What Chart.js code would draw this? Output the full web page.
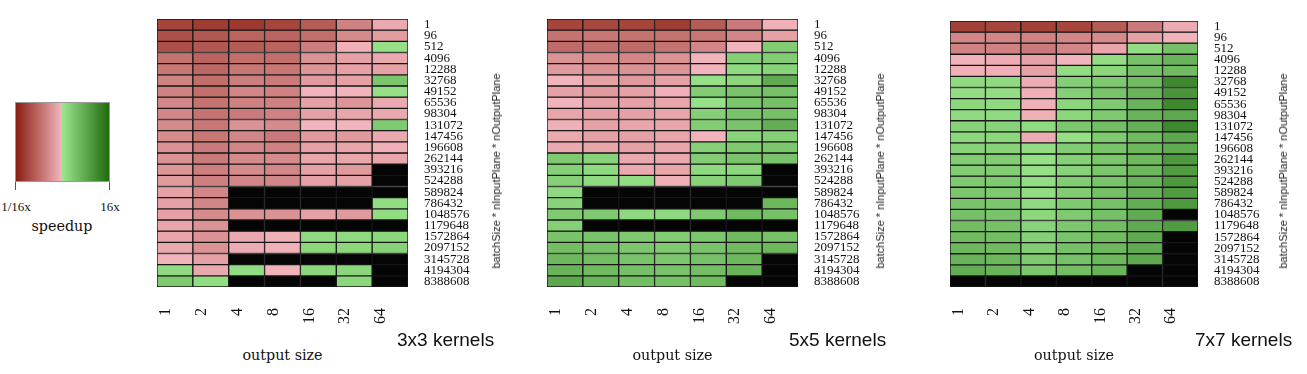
<!DOCTYPE html>
<html>
<head>
<meta charset="utf-8">
<script src="https://cdn.jsdelivr.net/npm/chart.js@4.4.1/dist/chart.umd.min.js"></script>
<style>
  body { margin: 0; width: 1307px; height: 374px; background: #fff; position: relative; overflow: hidden; color: #111; }
  canvas.panel { position: absolute; }
  .serif { position: absolute; font: 14.3px "DejaVu Serif", serif; white-space: nowrap; transform: translate(-50%, -50%); }
  .kern  { position: absolute; font: 19px "Liberation Sans", Arial, sans-serif; white-space: nowrap; transform: translateY(-50%); }
  .ytitle { position: absolute; font: 11px "Liberation Sans", Arial, sans-serif; color: #222; white-space: nowrap; transform: translate(-50%, -50%) rotate(-90deg); }
  .small { position: absolute; font: 13px "Liberation Serif", serif; white-space: nowrap; transform: translate(-50%, -50%); }
  #grad { position: absolute; left: 15px; top: 102px; width: 95px; height: 80px; box-sizing: border-box; border: 1px solid #999; }
  .tick { position: absolute; top: 182px; width: 1px; height: 8px; background: #555; }
</style>
</head>
<body>

<!-- legende -->
<div id="grad"></div>
<div class="tick" style="left:15px"></div>
<div class="tick" style="left:109px"></div>
<div class="small" style="left:16px; top:207px">1/16x</div>
<div class="small" style="left:110px; top:207px">16x</div>
<div class="serif" style="left:62px; top:226px">speedup</div>

<canvas id="c3" class="panel"></canvas>
<canvas id="c5" class="panel"></canvas>
<canvas id="c7" class="panel"></canvas>

<script>
// ── axes ─────────────────────────────────────────────────────────
const outputSizes = ["1", "2", "4", "8", "16", "32", "64"];
const rowLabels = [
  "1", "96", "512", "4096", "12288", "32768", "49152", "65536", "98304",
  "131072", "147456", "196608", "262144", "393216", "524288", "589824",
  "786432", "1048576", "1179648", "1572864", "2097152", "3145728",
  "4194304", "8388608"
];

// ── log2(speedup) par cellule, null = pas mesuré (noir) ─────────
const speedup3x3 = [
  [-3.0, -3.2, -3.3, -3.0, -2.4, -1.4, -0.4],
  [-2.7, -2.5, -2.2, -2.2, -1.9, -1.2, -0.7],
  [-2.7, -2.5, -2.4, -2.2, -1.5, -0.2,  0.2],
  [-1.8, -2.2, -1.9, -1.9, -1.0, -0.6, -0.4],
  [-1.7, -2.1, -1.7, -1.7, -0.9, -0.6, -0.6],
  [-1.4, -1.9, -1.5, -1.6, -0.8, -0.6,  1.0],
  [-1.4, -1.9, -1.3, -1.4, -0.1, -0.1,  0.2],
  [-1.3, -1.8, -1.4, -1.4, -0.6, -0.9, -0.4],
  [-1.3, -1.8, -1.6, -1.4, -0.6, -0.5, -0.4],
  [-1.2, -1.7, -1.0, -1.2, -0.1, -0.1,  0.9],
  [-1.2, -1.7, -1.3, -1.6, -0.8, -0.8, -0.4],
  [-1.0, -1.6, -1.3, -1.4, -0.6, -0.5, -0.2],
  [-1.0, -1.6, -1.2, -1.2, -0.5, -0.5, -0.5],
  [-0.9, -1.5, -1.2, -1.3, -0.6, -0.8, null],
  [-0.8, -1.5, -1.3, -1.3, -0.6, -0.6, null],
  [-0.6, -1.3, null, null, null, null, null],
  [-0.6, -1.3, null, null, null, null,  0.3],
  [-0.6, -1.2, -1.0, -1.0, -0.6, -0.8,  0.3],
  [-0.5, -1.0, null, null, null, null, null],
  [-0.5, -1.0, -0.4, -0.2,  0.4,  0.4,  0.5],
  [-0.4, -1.0, -0.3, -0.2,  0.5,  0.5,  0.6],
  [-0.1, -0.6, null, null, null, null, null],
  [ 0.4, -0.4,  0.3, -0.15, 0.5,  0.5, null],
  [ 0.9,  0.3, null, null, null,  0.5, null]
];

const speedup5x5 = [
  [-3.0, -2.9, -3.0, -3.2, -2.4, -1.6, -0.2],
  [-1.8, -1.7, -1.8, -1.8, -1.7, -1.3, -0.6],
  [-2.0, -1.9, -2.0, -1.8, -1.3, -0.1,  0.8],
  [-1.0, -1.2, -1.3, -1.0, -0.1,  0.7,  0.8],
  [-0.8, -1.0, -1.0, -0.9, -0.1,  0.4,  0.6],
  [-0.1, -0.6, -0.8, -0.6,  0.15, 0.5,  1.9],
  [-0.6, -0.8, -0.6, -0.2,  0.8,  1.1,  1.2],
  [-0.1, -0.6, -0.6, -0.5,  0.15, 1.0,  1.2],
  [-0.5, -0.6, -0.6, -0.5,  0.7,  1.1,  1.2],
  [-0.2, -0.6, -0.5, -0.5,  0.8,  1.1,  1.8],
  [-0.4, -0.6, -0.6, -0.5, -0.1,  0.6,  0.7],
  [-0.4, -0.5, -0.6, -0.5,  0.7,  0.9,  1.0],
  [ 0.9,  0.6, -0.4, -0.4,  0.8,  1.1,  1.1],
  [ 0.7,  0.4, -0.4, -0.5,  0.4,  0.5, null],
  [ 0.7,  0.4,  0.3, -0.2,  0.6,  0.9, null],
  [ 0.4, null, null, null, null, null, null],
  [ 0.6, null, null, null, null, null,  1.5],
  [ 0.9,  0.9,  0.4,  0.4,  0.9,  1.4,  1.2],
  [ 0.7, null, null, null, null, null, null],
  [ 1.1,  1.1,  0.9,  0.8,  1.0,  1.4,  1.2],
  [ 1.3,  1.2,  1.0,  0.9,  1.1,  1.4,  1.5],
  [ 1.5,  1.3,  1.1,  1.0,  1.2,  1.5, null],
  [ 1.6,  1.4,  1.2,  1.1,  1.3,  1.6, null],
  [ 2.0,  1.6,  1.3,  1.2,  1.4, null, null]
];

const speedup7x7 = [
  [-3.1, -3.0, -3.1, -3.0, -2.4, -1.6, -0.3],
  [-1.3, -1.3, -1.4, -1.3, -1.2, -0.6, -0.15],
  [-1.4, -1.4, -1.6, -1.3, -0.5,  0.3,  1.2],
  [-0.15, -0.3, -0.6, -0.1, 0.3,  1.2,  1.6],
  [-0.2, -0.2, -0.6,  0.3,  0.5,  1.2,  1.4],
  [ 0.4,  0.4, -0.3,  0.7,  0.9,  1.4,  3.0],
  [ 0.3,  0.3, -0.2,  0.7,  1.1,  1.6,  2.6],
  [ 0.5,  0.4, -0.2,  0.5,  0.9,  1.6,  3.0],
  [ 0.4,  0.4, -0.2,  0.5,  0.9,  1.6,  2.0],
  [ 0.6,  0.6,  0.4,  1.0,  1.3,  1.7,  3.0],
  [ 0.5,  0.5, -0.3,  0.2,  0.9,  1.4,  2.0],
  [ 0.6,  0.6,  0.3,  0.8,  1.1,  1.5,  1.9],
  [ 0.8,  0.8,  0.2,  0.7,  1.0,  1.5,  2.5],
  [ 0.8,  0.8,  0.2,  0.6,  1.0,  1.5,  2.4],
  [ 0.9,  0.9,  0.25, 0.8,  1.1,  1.6,  2.5],
  [ 1.0,  0.9,  0.3,  0.8,  1.2,  1.7,  2.4],
  [ 1.1,  1.0,  0.4,  0.9,  1.2,  1.8,  2.5],
  [ 1.2,  1.1,  0.5,  0.9,  1.2,  1.9, null],
  [ 1.3,  1.2,  0.6,  1.0,  1.3,  1.9,  2.4],
  [ 1.4,  1.3,  0.7,  1.1,  1.4,  1.9, null],
  [ 1.5,  1.4,  0.8,  1.2,  1.5,  1.9, null],
  [ 1.6,  1.5,  0.9,  1.2,  1.5,  2.0, null],
  [ 1.8,  1.6,  1.0,  1.3,  1.6, null, null],
  [null, null, null, null, null, null, null]
];

// ── échelle de couleurs : 1/16x (rouge) → 1 → 16x (vert) ──────
const RED_LO  = [138, 30, 16],  RED_HI  = [245, 184, 192];
const GRN_LO  = [155, 230, 140], GRN_HI = [31, 106, 15];

function mix(a, b, t) {
  t = Math.max(0, Math.min(1, t));
  return "rgb(" + a.map((c, i) => Math.round(c + (b[i] - c) * t)).join(",") + ")";
}

function speedColor(v) {
  if (v === null) return "#050505";
  return v < 0 ? mix(RED_LO, RED_HI, (v + 4) / 4) : mix(GRN_LO, GRN_HI, v / 4);
}

// dégradé de la légende, tiré de la même échelle
const stops = [];
for (let i = 0; i <= 8; i++) stops.push(`${mix(RED_LO, RED_HI, i / 8)} ${(i * 6.25).toFixed(2)}%`);
for (let i = 0; i <= 8; i++) stops.push(`${mix(GRN_LO, GRN_HI, i / 8)} ${(50 + i * 6.25).toFixed(2)}%`);
document.getElementById("grad").style.background = `linear-gradient(to right, ${stops.join(",")})`;

// ── panneaux ─────────────────────────────────────────────────────
const PAD_TOP = 8, Y_AXIS_W = 100, X_AXIS_H = 45;

const panels = [
  { id: "c3", data: speedup3x3, left: 157, top: 19, w: 251, h: 268, title: "3x3 kernels", titleX: 397, yTitleX: 496 },
  { id: "c5", data: speedup5x5, left: 547, top: 19, w: 251, h: 268, title: "5x5 kernels", titleX: 789, yTitleX: 880 },
  { id: "c7", data: speedup7x7, left: 950, top: 21, w: 248, h: 266, title: "7x7 kernels", titleX: 1195, yTitleX: 1283 },
];

function addText(cls, text, x, y) {
  const d = document.createElement("div");
  d.className = cls;
  d.textContent = text;
  d.style.left = x + "px";
  d.style.top = y + "px";
  document.body.appendChild(d);
}

panels.forEach(p => {
  const cv = document.getElementById(p.id);
  cv.width  = p.w + Y_AXIS_W;
  cv.height = p.h + PAD_TOP + X_AXIS_H;
  cv.style.left = p.left + "px";
  cv.style.top  = (p.top - PAD_TOP) + "px";

  new Chart(cv, {
    type: "bar",
    data: {
      labels: outputSizes,
      datasets: p.data.map((row, r) => ({
        label: rowLabels[r],
        data: row.map(() => 1),
        backgroundColor: row.map(speedColor),
        borderColor: "#161616",
        borderWidth: 1,
        borderSkipped: false,
        barPercentage: 1,
        categoryPercentage: 1,
      }))
    },
    options: {
      responsive: false,
      animation: false,
      events: [],
      layout: { padding: { top: PAD_TOP, left: 0, right: 0, bottom: 0 } },
      plugins: { legend: { display: false }, tooltip: { enabled: false } },
      scales: {
        x: {
          stacked: true,
          grid: { display: false, drawTicks: false },
          border: { display: false },
          ticks: {
            minRotation: 90, maxRotation: 90, labelOffset: -9, padding: 21,
            color: "#111", font: { family: "'Liberation Serif'", size: 16 }
          },
          afterFit: s => { s.height = X_AXIS_H; s.paddingLeft = 0; s.paddingRight = 0; }
        },
        y: {
          stacked: true,
          position: "right",
          reverse: true,
          min: 0, max: rowLabels.length,
          grid: { display: false, drawTicks: false },
          border: { display: false },
          afterBuildTicks: s => { s.ticks = rowLabels.map((_, i) => ({ value: i + 0.5 })); },
          ticks: {
            autoSkip: false, padding: 16,
            callback: (v, i) => rowLabels[i],
            color: "#111", font: { family: "'Liberation Serif'", size: 13 }
          },
          afterFit: s => { s.width = Y_AXIS_W; s.paddingTop = 0; s.paddingBottom = 0; }
        }
      }
    }
  });

  addText("serif", "output size", p.left + p.w / 2, 355);
  addText("kern", p.title, p.titleX, 340);
  addText("ytitle", "batchSize * nInputPlane * nOutputPlane", p.yTitleX, 171);
});
</script>
</body>
</html>
